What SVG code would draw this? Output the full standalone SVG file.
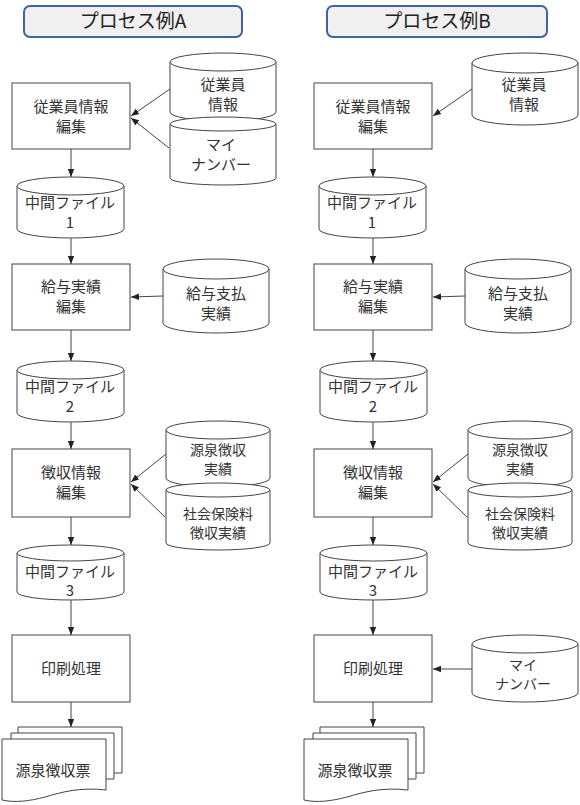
<svg xmlns="http://www.w3.org/2000/svg" width="580" height="805" viewBox="0 0 580 805">
<defs>
<marker id="ah" markerUnits="userSpaceOnUse" markerWidth="8" markerHeight="8" viewBox="0 0 8 8" refX="8" refY="4" orient="auto">
<path d="M0,0.8 L8,4 L0,7.2 Z" fill="#222"/>
</marker>
</defs>
<style>
.bg{fill:#ffffff}
.title rect{fill:#f0f0f0;stroke:#3f65a0;stroke-width:2}
.title text{font-family:"Noto Sans CJK JP","Liberation Sans",sans-serif;font-size:19px;fill:#222;text-anchor:middle}
.box rect{fill:#fff;stroke:#444;stroke-width:1}
.cyl path{fill:#fff;stroke:#444;stroke-width:1}
.doc path{fill:#fff;stroke:#444;stroke-width:1}
text.t{font-family:"Noto Sans CJK JP","Liberation Sans",sans-serif;font-size:15px;fill:#333;text-anchor:middle}
text.s{font-size:14px}
.conn line{stroke:#444;stroke-width:1;marker-end:url(#ah)}
</style>
<rect class="bg" x="0" y="0" width="580" height="805"/>

<g id="titleA" class="title"><rect x="24" y="6" width="218" height="31" rx="6"/><text x="133" y="28">プロセス例A</text></g>
<g id="titleB" class="title"><rect x="327" y="6" width="220" height="31" rx="6"/><text x="437" y="28">プロセス例B</text></g>

<!-- Column A -->
<g id="a-edit-emp" class="box"><rect x="12" y="83" width="118" height="66"/><text class="t" x="71" y="112">従業員情報</text><text class="t" x="71" y="132">編集</text></g>
<g id="a-emp-info" class="cyl"><path d="M170,62 A53,9 0 0 1 276,62 L276,112 A53,9 0 0 1 170,112 Z"/><path d="M170,62 A53,9 0 0 0 276,62"/><text class="t" x="223" y="90">従業員</text><text class="t" x="223" y="110">情報</text></g>
<g id="a-mynumber" class="cyl"><path d="M170,124 A53,7 0 0 1 276,124 L276,178 A53,7 0 0 1 170,178 Z"/><path d="M170,124 A53,7 0 0 0 276,124"/><text class="t" x="221" y="150">マイ</text><text class="t" x="221" y="170">ナンバー</text></g>
<g id="a-mid1" class="cyl"><path d="M17,186 A53.5,9 0 0 1 124,186 L124,229 A53.5,9 0 0 1 17,229 Z"/><path d="M17,186 A53.5,9 0 0 0 124,186"/><text class="t" x="70" y="208">中間ファイル</text><text class="t" x="70" y="228">1</text></g>
<g id="a-edit-pay" class="box"><rect x="12" y="264" width="118" height="66"/><text class="t" x="71" y="292">給与実績</text><text class="t" x="71" y="312">編集</text></g>
<g id="a-pay" class="cyl"><path d="M163,269 A53,10 0 0 1 269,269 L269,323 A53,10 0 0 1 163,323 Z"/><path d="M163,269 A53,10 0 0 0 269,269"/><text class="t" x="216" y="299">給与支払</text><text class="t" x="216" y="319">実績</text></g>
<g id="a-mid2" class="cyl"><path d="M17,370 A53.5,9 0 0 1 124,370 L124,413 A53.5,9 0 0 1 17,413 Z"/><path d="M17,370 A53.5,9 0 0 0 124,370"/><text class="t" x="70" y="392">中間ファイル</text><text class="t" x="70" y="412">2</text></g>
<g id="a-edit-tax" class="box"><rect x="12" y="449" width="118" height="68"/><text class="t" x="71" y="478">徴収情報</text><text class="t" x="71" y="498">編集</text></g>
<g id="a-withhold" class="cyl"><path d="M166,430 A52,9 0 0 1 270,430 L270,478 A52,9 0 0 1 166,478 Z"/><path d="M166,430 A52,9 0 0 0 270,430"/><text class="t s" x="218" y="455">源泉徴収</text><text class="t s" x="218" y="474">実績</text></g>
<g id="a-social" class="cyl"><path d="M166,490 A52,7 0 0 1 270,490 L270,543 A52,7 0 0 1 166,543 Z"/><path d="M166,490 A52,7 0 0 0 270,490"/><text class="t s" x="218" y="519">社会保険料</text><text class="t s" x="218" y="538">徴収実績</text></g>
<g id="a-mid3" class="cyl"><path d="M17,553 A53.5,8 0 0 1 124,553 L124,592 A53.5,8 0 0 1 17,592 Z"/><path d="M17,553 A53.5,8 0 0 0 124,553"/><text class="t" x="70" y="577">中間ファイル</text><text class="t" x="70" y="596">3</text></g>
<g id="a-print" class="box"><rect x="12" y="635" width="118" height="67"/><text class="t" x="71" y="674">印刷処理</text></g>
<g id="a-slip" class="doc"><path d="M18,727 H122 V773 H18 Z"/><path d="M11,733 H114 V779 H11 Z"/><path d="M2,739 H106 V790 C80,787 62,792 45,797 C30,801 15,803 2,800 Z"/><text class="t" x="53" y="776">源泉徴収票</text></g>

<!-- Column B -->
<g id="b-edit-emp" class="box"><rect x="314" y="83" width="118" height="66"/><text class="t" x="373" y="112">従業員情報</text><text class="t" x="373" y="132">編集</text></g>
<g id="b-emp-info" class="cyl"><path d="M472,63 A53,10 0 0 1 578,63 L578,115 A53,10 0 0 1 472,115 Z"/><path d="M472,63 A53,10 0 0 0 578,63"/><text class="t" x="524" y="90">従業員</text><text class="t" x="524" y="110">情報</text></g>
<g id="b-mid1" class="cyl"><path d="M319,186 A53.5,9 0 0 1 426,186 L426,229 A53.5,9 0 0 1 319,229 Z"/><path d="M319,186 A53.5,9 0 0 0 426,186"/><text class="t" x="372" y="208">中間ファイル</text><text class="t" x="372" y="228">1</text></g>
<g id="b-edit-pay" class="box"><rect x="314" y="264" width="118" height="66"/><text class="t" x="373" y="292">給与実績</text><text class="t" x="373" y="312">編集</text></g>
<g id="b-pay" class="cyl"><path d="M465,269 A53,10 0 0 1 571,269 L571,323 A53,10 0 0 1 465,323 Z"/><path d="M465,269 A53,10 0 0 0 571,269"/><text class="t" x="518" y="299">給与支払</text><text class="t" x="518" y="319">実績</text></g>
<g id="b-mid2" class="cyl"><path d="M320,370 A53.5,9 0 0 1 427,370 L427,413 A53.5,9 0 0 1 320,413 Z"/><path d="M320,370 A53.5,9 0 0 0 427,370"/><text class="t" x="373" y="392">中間ファイル</text><text class="t" x="373" y="412">2</text></g>
<g id="b-edit-tax" class="box"><rect x="314" y="449" width="118" height="68"/><text class="t" x="373" y="478">徴収情報</text><text class="t" x="373" y="498">編集</text></g>
<g id="b-withhold" class="cyl"><path d="M468,430 A52,9 0 0 1 572,430 L572,478 A52,9 0 0 1 468,478 Z"/><path d="M468,430 A52,9 0 0 0 572,430"/><text class="t s" x="520" y="455">源泉徴収</text><text class="t s" x="520" y="474">実績</text></g>
<g id="b-social" class="cyl"><path d="M468,490 A52,7 0 0 1 572,490 L572,543 A52,7 0 0 1 468,543 Z"/><path d="M468,490 A52,7 0 0 0 572,490"/><text class="t s" x="520" y="519">社会保険料</text><text class="t s" x="520" y="538">徴収実績</text></g>
<g id="b-mid3" class="cyl"><path d="M320,553 A53.5,8 0 0 1 427,553 L427,592 A53.5,8 0 0 1 320,592 Z"/><path d="M320,553 A53.5,8 0 0 0 427,553"/><text class="t" x="373" y="577">中間ファイル</text><text class="t" x="373" y="596">3</text></g>
<g id="b-print" class="box"><rect x="314" y="635" width="118" height="67"/><text class="t" x="373" y="674">印刷処理</text></g>
<g id="b-mynumber" class="cyl"><path d="M472,644 A53,9 0 0 1 578,644 L578,693 A53,9 0 0 1 472,693 Z"/><path d="M472,644 A53,9 0 0 0 578,644"/><text class="t s" x="523" y="670">マイ</text><text class="t s" x="523" y="689">ナンバー</text></g>
<g id="b-slip" class="doc"><path d="M320,727 H424 V773 H320 Z"/><path d="M313,733 H416 V779 H313 Z"/><path d="M304,739 H408 V790 C382,787 364,792 347,797 C332,801 317,803 304,800 Z"/><text class="t" x="355" y="776">源泉徴収票</text></g>

<g id="connectors" class="conn">
<line x1="71" y1="149" x2="71" y2="177"/>
<line x1="71" y1="238" x2="71" y2="264"/>
<line x1="71" y1="330" x2="71" y2="361"/>
<line x1="71" y1="422" x2="71" y2="449"/>
<line x1="71" y1="517" x2="71" y2="545"/>
<line x1="71" y1="600" x2="71" y2="635"/>
<line x1="71" y1="702" x2="71" y2="727"/>
<line x1="170" y1="89" x2="131" y2="116"/>
<line x1="169" y1="148" x2="131" y2="118"/>
<line x1="163" y1="296" x2="131" y2="297"/>
<line x1="166" y1="454" x2="131" y2="482"/>
<line x1="165" y1="517" x2="131" y2="484"/>
<line x1="373" y1="149" x2="373" y2="177"/>
<line x1="373" y1="238" x2="373" y2="264"/>
<line x1="373" y1="330" x2="373" y2="361"/>
<line x1="373" y1="422" x2="373" y2="449"/>
<line x1="373" y1="517" x2="373" y2="545"/>
<line x1="373" y1="600" x2="373" y2="635"/>
<line x1="373" y1="702" x2="373" y2="727"/>
<line x1="472" y1="89" x2="433" y2="116"/>
<line x1="465" y1="296" x2="433" y2="297"/>
<line x1="468" y1="454" x2="433" y2="482"/>
<line x1="467" y1="517" x2="433" y2="484"/>
<line x1="472" y1="669" x2="433" y2="669"/>
</g>
</svg>
